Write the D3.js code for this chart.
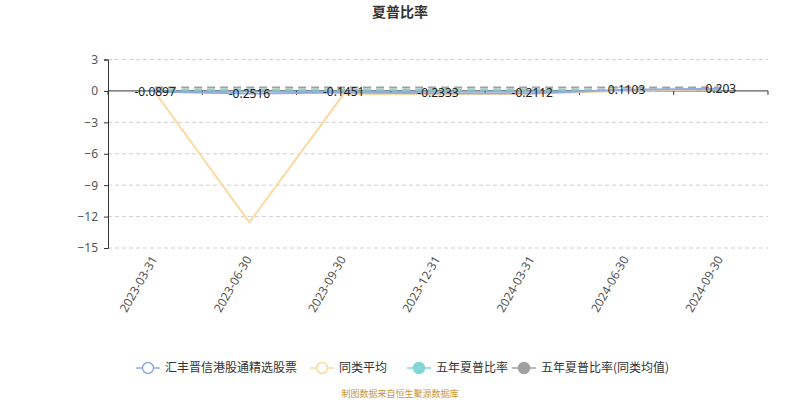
<!DOCTYPE html>
<html>
<head>
<meta charset="utf-8">
<script src="https://cdn.jsdelivr.net/npm/d3@7"></script>
<style>
  body { margin: 0; background: #fff; }
  svg { font-family: "Noto Sans CJK SC", "Noto Sans", sans-serif; }
</style>
</head>
<body>
<svg id="chart" width="800" height="400"></svg>
<script>
// data
const dates = ['2023-03-31', '2023-06-30', '2023-09-30', '2023-12-31', '2024-03-31', '2024-06-30', '2024-09-30'];
const fundSharpe = [-0.0897, -0.2516, -0.1451, -0.2333, -0.2112, 0.1103, 0.203];
const peerAvg = [-0.15, -12.55, -0.3, -0.3, -0.28, 0.02, 0.15];
const fiveYear = [0.12, 0.12, 0.12, 0.12, 0.12, 0.12, 0.12];
const fiveYearPeer = [0.32, 0.32, 0.32, 0.32, 0.32, 0.32, 0.32];
const yTicks = [3, 0, -3, -6, -9, -12, -15];

const seriesNames = ['汇丰晋信港股通精选股票', '同类平均', '五年夏普比率', '五年夏普比率(同类均值)'];
const colors = ['#91acdf', '#fbd9a0', '#85d6d6', '#a0a0a0'];

const svg = d3.select('#chart');
const mLeft = 108, mRight = 768, mTop = 59.5, mBottom = 248;

const x = d3.scaleBand().domain(dates).range([mLeft, mRight]);
const y = d3.scaleLinear().domain([-15, 3]).range([mBottom, mTop]);
const cx = d => x(d) + x.bandwidth() / 2;

// title
svg.append('text')
  .attr('x', 400).attr('y', 17)
  .attr('text-anchor', 'middle')
  .attr('font-size', 14).attr('font-weight', 'bold').attr('fill', '#333')
  .text('夏普比率');

// grid lines
svg.append('g').selectAll('line')
  .data(yTicks.filter(t => t !== 0))
  .join('line')
  .attr('x1', mLeft).attr('x2', mRight)
  .attr('y1', d => y(d)).attr('y2', d => y(d))
  .attr('stroke', '#d0d0d0').attr('stroke-dasharray', '4,3');

// y axis
const yAxis = svg.append('g')
  .attr('transform', `translate(${mLeft},0)`)
  .call(d3.axisLeft(y).tickValues(yTicks).tickSize(4).tickPadding(6));
yAxis.select('.domain').attr('stroke', '#333');
yAxis.selectAll('.tick line').attr('stroke', '#333');
yAxis.selectAll('.tick text').attr('font-size', 12).attr('fill', '#555')
  .attr('font-family', 'Noto Sans, sans-serif');

// x axis at zero, ticks on band boundaries
const xAxis = svg.append('g').attr('transform', `translate(0,${y(0)})`);
xAxis.append('line')
  .attr('x1', mLeft).attr('x2', mRight)
  .attr('stroke', '#333');
xAxis.selectAll('.xtick')
  .data(dates.map(d => x(d)).concat([mRight]))
  .join('line')
  .attr('class', 'xtick')
  .attr('x1', d => d).attr('x2', d => d)
  .attr('y1', 0).attr('y2', 4)
  .attr('stroke', '#333');

// x labels at bottom, rotated
svg.append('g').selectAll('text')
  .data(dates)
  .join('text')
  .attr('transform', d => `translate(${cx(d) - 1},${mBottom + 9}) rotate(-60)`)
  .attr('text-anchor', 'end')
  .attr('dy', '0.35em')
  .attr('font-size', 12).attr('fill', '#555')
  .attr('font-family', 'Noto Sans, sans-serif')
  .text(d => d);

const line = d3.line().x((d, i) => cx(dates[i])).y(d => y(d));

// dashed reference lines
svg.append('path').datum(fiveYearPeer)
  .attr('d', line).attr('fill', 'none')
  .attr('stroke', colors[3]).attr('stroke-width', 2).attr('stroke-dasharray', '8,5');
svg.append('path').datum(fiveYear)
  .attr('d', line).attr('fill', 'none')
  .attr('stroke', colors[2]).attr('stroke-width', 2).attr('stroke-dasharray', '8,5');

svg.append('path').datum(peerAvg)
  .attr('d', line).attr('fill', 'none')
  .attr('stroke', colors[1]).attr('stroke-width', 2);
svg.append('path').datum(fundSharpe)
  .attr('d', line).attr('fill', 'none')
  .attr('stroke', colors[0]).attr('stroke-width', 2);

// value labels
svg.append('g').selectAll('text')
  .data(fundSharpe)
  .join('text')
  .attr('x', (d, i) => cx(dates[i]))
  .attr('y', d => y(d) + 4)
  .attr('text-anchor', 'middle')
  .attr('font-size', 12).attr('fill', '#222')
  .attr('font-family', 'Noto Sans, sans-serif')
  .text(d => d);

// legend
const legendItems = [
  { name: seriesNames[0], color: colors[0], filled: false, x: 136 },
  { name: seriesNames[1], color: colors[1], filled: false, x: 310 },
  { name: seriesNames[2], color: colors[2], filled: true, x: 407 },
  { name: seriesNames[3], color: colors[3], filled: true, x: 512 }
];
const lg = svg.append('g').selectAll('g')
  .data(legendItems)
  .join('g')
  .attr('transform', d => `translate(${d.x},368)`);
lg.append('line')
  .attr('x1', 0).attr('x2', 24)
  .attr('stroke', d => d.color).attr('stroke-width', 1.5);
lg.append('circle')
  .attr('cx', 12).attr('r', 5.5)
  .attr('fill', d => d.filled ? d.color : '#fff')
  .attr('stroke', d => d.color).attr('stroke-width', 1.5);
lg.append('text')
  .attr('x', 29).attr('dy', '0.35em')
  .attr('font-size', 12).attr('fill', '#333')
  .text(d => d.name);

// source note
svg.append('text')
  .attr('x', 400).attr('y', 397)
  .attr('text-anchor', 'middle')
  .attr('font-size', 9).attr('fill', '#c8963c')
  .text('制图数据来自恒生聚源数据库');
</script>
</body>
</html>
